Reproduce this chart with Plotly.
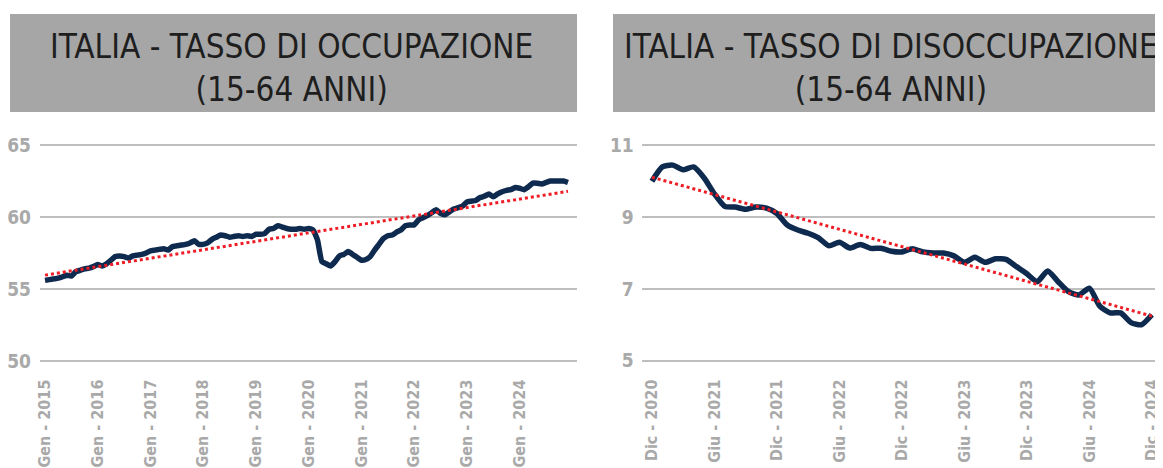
import numpy as np
import plotly.graph_objects as go

# ---------------- data ----------------
occ_ticks = ["Gen - 2015", "Gen - 2016", "Gen - 2017", "Gen - 2018", "Gen - 2019",
             "Gen - 2020", "Gen - 2021", "Gen - 2022", "Gen - 2023", "Gen - 2024"]
# Monthly employment rate, Jan 2015 - Dec 2024
occupazione = [
    55.6, 55.65, 55.7, 55.75, 55.85, 55.95, 55.9, 56.2, 56.3, 56.4, 56.45, 56.55,
    56.7, 56.6, 56.75, 57.0, 57.25, 57.3, 57.25, 57.15, 57.3, 57.35, 57.4, 57.5,
    57.65, 57.7, 57.75, 57.8, 57.7, 57.95, 58.0, 58.05, 58.1, 58.2, 58.35, 58.1,
    58.1, 58.2, 58.45, 58.6, 58.75, 58.7, 58.6, 58.65, 58.7, 58.65, 58.7, 58.65,
    58.8, 58.8, 58.85, 59.15, 59.2, 59.4, 59.3, 59.2, 59.15, 59.15, 59.2, 59.15,
    59.2, 59.1, 58.4, 56.9, 56.75, 56.6, 56.9, 57.3, 57.4, 57.6, 57.4, 57.2,
    57.0, 57.05, 57.25, 57.7, 58.1, 58.5, 58.7, 58.75, 58.95, 59.1, 59.4, 59.45,
    59.45, 59.8, 59.95, 60.1, 60.3, 60.5, 60.25, 60.15, 60.35, 60.55, 60.65, 60.75,
    61.05, 61.1, 61.15, 61.35, 61.45, 61.6, 61.4, 61.6, 61.75, 61.85, 61.9, 62.05,
    62.0, 61.9, 62.1, 62.35, 62.35, 62.3, 62.4, 62.5, 62.5, 62.5, 62.5, 62.4,
]
occ_yticks = [50, 55, 60, 65]

dis_ticks = ["Dic - 2020", "Giu - 2021", "Dic - 2021", "Giu - 2022", "Dic - 2022",
             "Giu - 2023", "Dic - 2023", "Giu - 2024", "Dic - 2024"]
# Monthly unemployment rate, Dec 2020 - Dec 2024
disoccupazione = [
    10.0, 10.4, 10.45, 10.32, 10.4, 10.1, 9.65, 9.3, 9.28, 9.22, 9.28, 9.25,
    9.1, 8.78, 8.64, 8.55, 8.42, 8.2, 8.3, 8.14, 8.24, 8.13, 8.13, 8.05,
    8.03, 8.12, 8.03, 8.0, 8.0, 7.92, 7.74, 7.88, 7.74, 7.84, 7.82, 7.62,
    7.42, 7.2, 7.5, 7.2, 6.92, 6.83, 7.02, 6.52, 6.33, 6.33, 6.06, 6.0, 6.28,
]
dis_yticks = [5, 7, 9, 11]

title_left = "ITALIA - TASSO DI OCCUPAZIONE<br>(15-64 ANNI)"
title_right = "ITALIA - TASSO DI DISOCCUPAZIONE<br>(15-64 ANNI)"

# ---------------- styling ----------------
W, H = 1163, 468
OFF = 8  # page body margin
NAVY = "#0f2a4f"
RED = "#ee1c25"
GRID = "#bfbfbf"
TICK = "#a9a9a9"
BOX = "#a6a6a6"
FONT = "Liberation Sans Narrow, DejaVu Sans Condensed, Roboto, sans-serif"

def px_x(p):
    return (p - OFF) / W

def px_y(p):
    return 1 - (p - OFF) / H

x_occ = np.arange(len(occupazione))
x_dis = np.arange(len(disoccupazione))
tr_occ = np.polyval(np.polyfit(x_occ, occupazione, 1), x_occ)
tr_dis = np.polyval(np.polyfit(x_dis, disoccupazione, 1), x_dis)

fig = go.Figure()
fig.add_trace(go.Scatter(x=x_occ, y=occupazione, mode="lines",
                         line=dict(color=NAVY, width=5.5, shape="spline", smoothing=0.4),
                         xaxis="x", yaxis="y", showlegend=False, hoverinfo="skip"))
fig.add_trace(go.Scatter(x=x_occ, y=tr_occ, mode="lines",
                         line=dict(color=RED, width=3, dash="dot"),
                         xaxis="x", yaxis="y", showlegend=False, hoverinfo="skip"))
fig.add_trace(go.Scatter(x=x_dis, y=disoccupazione, mode="lines",
                         line=dict(color=NAVY, width=5.5, shape="spline", smoothing=0.6),
                         xaxis="x2", yaxis="y2", showlegend=False, hoverinfo="skip"))
fig.add_trace(go.Scatter(x=x_dis, y=tr_dis, mode="lines",
                         line=dict(color=RED, width=3, dash="dot"),
                         xaxis="x2", yaxis="y2", showlegend=False, hoverinfo="skip"))

ydom = [px_y(362.4), px_y(143.6)]
tickfont_y = dict(family=FONT, size=19, color=TICK, weight="bold")
tickfont_x = dict(family=FONT, size=16, color=TICK, weight="bold")

fig.update_layout(
    width=W, height=H,
    margin=dict(l=0, r=0, t=0, b=0, autoexpand=False),
    paper_bgcolor="white", plot_bgcolor="white",
    xaxis=dict(domain=[px_x(40), px_x(577)], range=[-1.14, 121.05], automargin=False,
               tickmode="array", tickvals=list(range(0, 120, 12)), ticktext=occ_ticks,
               tickangle=-90, tickfont=tickfont_x, showgrid=False, zeroline=False,
               showline=False, ticks="", ticklabelstandoff=13),
    yaxis=dict(domain=ydom, range=[49.9, 65.1], tickmode="array", tickvals=occ_yticks,
               automargin=False,
               tickfont=tickfont_y, showgrid=True, gridcolor=GRID, gridwidth=2,
               zeroline=False, showline=False, ticks="", ticklabelstandoff=8),
    xaxis2=dict(domain=[px_x(641.7), px_x(1168)], range=[-0.98, 49.55], anchor="y2",
                automargin=False,
                tickmode="array", tickvals=list(range(0, 49, 6)), ticktext=dis_ticks,
                tickangle=-90, tickfont=tickfont_x, showgrid=False, zeroline=False,
                showline=False, ticks="", ticklabelstandoff=13),
    yaxis2=dict(domain=ydom, range=[4.95, 11.05], anchor="x2", tickmode="array",
                automargin=False,
                tickvals=dis_yticks, tickfont=tickfont_y, showgrid=True,
                gridcolor=GRID, gridwidth=2, zeroline=False, showline=False,
                ticks="", ticklabelstandoff=7),
)

# title boxes
fig.add_shape(type="rect", xref="paper", yref="paper",
              x0=px_x(10), x1=px_x(577), y0=px_y(112), y1=px_y(14),
              fillcolor=BOX, line_width=0, layer="below")
fig.add_shape(type="rect", xref="paper", yref="paper",
              x0=px_x(613), x1=px_x(1170), y0=px_y(112), y1=px_y(14),
              fillcolor=BOX, line_width=0, layer="below")

tfont = dict(family=FONT, size=33, color="#1e1e1e")
for cx, txt in [(291, title_left), (891, title_right)]:
    fig.add_annotation(text=txt, xref="paper", yref="paper", x=px_x(cx), y=px_y(68),
                       xanchor="center", yanchor="middle", showarrow=False, font=tfont)

fig.write_html("out.html")
